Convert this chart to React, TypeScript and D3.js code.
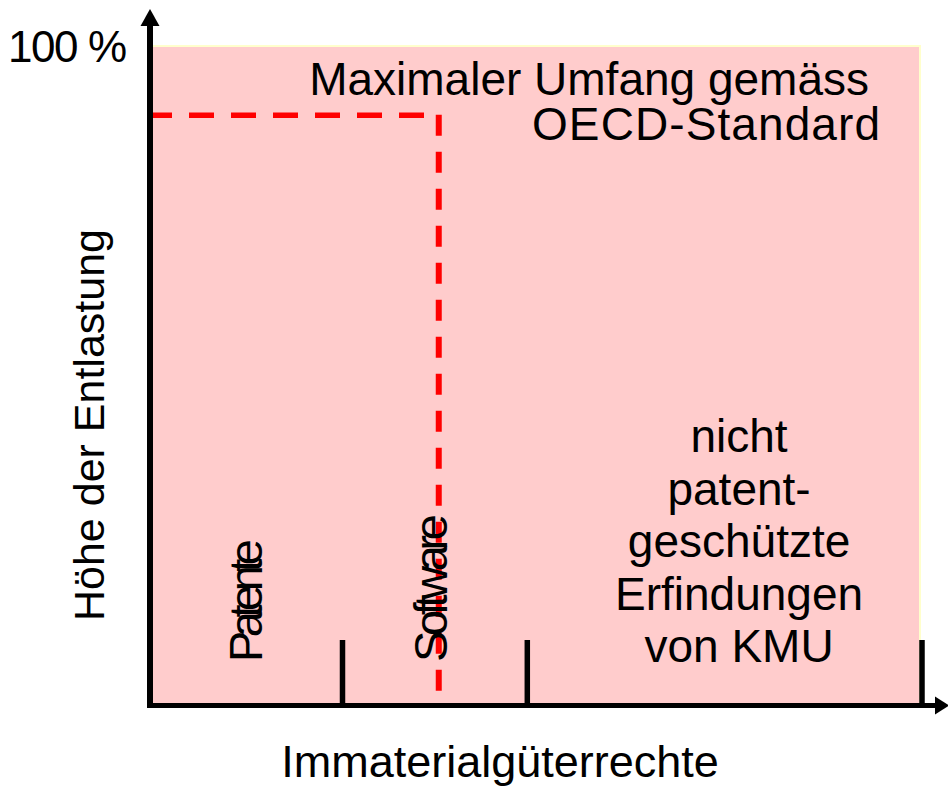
import React from "react";
import * as d3 from "d3";

// ---- data ----
const segmentBounds = [0, 0.25, 0.49, 1.0]; // share of x axis: Patente | Software | nicht patentgeschützte
const categoryLabels = ["Patente", "Software"];
const categoryCenters = [0.123, 0.3635];
const otherLabelLines = ["nicht", "patent-", "geschützte", "Erfindungen", "von KMU"];
const otherCenter = 0.765;
const oecdMax = 89.5; // % height of the maximal relief
const softwareSplit = 0.375; // where the dashed limit drops to zero
const tickHeightPct = 10;
const yTopLabel = "100 %";
const titleLines = ["Maximaler Umfang gemäss", "OECD-Standard"];
const xTitle = "Immaterialgüterrechte";
const yTitle = "Höhe der Entlastung";

const W = 948;
const H = 787;
const FONT = "'Liberation Sans', Arial, Helvetica, sans-serif";

export default function App() {
  const x = d3.scaleLinear().domain([0, 1]).range([150, 920]);
  const y = d3.scaleLinear().domain([0, 100]).range([706, 46]);

  const hLine = d3.line()([
    [x(0) - 3, y(oecdMax)],
    [x(softwareSplit), y(oecdMax)],
  ]);
  const vLine = d3.line()([
    [x(softwareSplit), y(oecdMax) - 0.5],
    [x(softwareSplit), y(0) - 10],
  ]);

  return (
    <svg
      width={W}
      height={H}
      viewBox={`0 0 ${W} ${H}`}
      style={{ position: "absolute", left: 0, top: 0, background: "#fff" }}
    >
      {/* background area */}
      <rect
        x={x(0)}
        y={y(100)}
        width={x(1) - x(0)}
        height={y(0) - y(100)}
        fill="#ffcccc"
        stroke="#ffffcc"
        strokeWidth={2}
      />

      {/* dashed OECD limit */}
      <path d={hLine || ""} stroke="#ff0000" strokeWidth={5.5} strokeDasharray="25 17" fill="none" />
      <path d={vLine || ""} stroke="#ff0000" strokeWidth={6} strokeDasharray="21 16" fill="none" />

      {/* segment ticks */}
      {segmentBounds.slice(1).map((b, i) => (
        <line
          key={i}
          x1={x(b) + (i === 2 ? 2 : 0)}
          x2={x(b) + (i === 2 ? 2 : 0)}
          y1={y(tickHeightPct)}
          y2={y(0)}
          stroke="#000"
          strokeWidth={5.5}
        />
      ))}

      {/* axes */}
      <line x1={x(0)} x2={x(0)} y1={24} y2={708} stroke="#000" strokeWidth={6} />
      <line x1={x(0) - 3} x2={938} y1={705.5} y2={705.5} stroke="#000" strokeWidth={5} />
      <polygon points={`${x(0)},9 ${x(0) - 9.5},26 ${x(0) + 9.5},26`} fill="#000" />
      <polygon points={`949,705.5 935,696.5 935,714.5`} fill="#000" />

      {/* texts */}
      <text x={8} y={62} fontFamily={FONT} fontSize={44} textLength={119} lengthAdjust="spacing" fill="#000">
        {yTopLabel}
      </text>
      <text fontFamily={FONT} fontSize={46} textAnchor="end" fill="#000">
        <tspan x={869} y={95}>
          {titleLines[0]}
        </tspan>
        <tspan x={880} y={140} textLength={348} lengthAdjust="spacing">
          {titleLines[1]}
        </tspan>
      </text>

      <text fontFamily={FONT} fontSize={46} textAnchor="middle" fill="#000">
        {otherLabelLines.map((t, i) => (
          <tspan key={t} x={x(otherCenter)} y={452 + i * 52.5}>
            {t}
          </tspan>
        ))}
      </text>

      <text
        transform={`translate(${x(categoryCenters[0]) + 17},662) rotate(-90)`}
        fontFamily={FONT}
        fontSize={47}
        textLength={123}
        lengthAdjust="spacing"
        fill="#000"
      >
        {categoryLabels[0]}
      </text>
      <text
        transform={`translate(${x(categoryCenters[1]) + 17},662) rotate(-90)`}
        fontFamily={FONT}
        fontSize={47}
        textLength={148}
        lengthAdjust="spacing"
        fill="#000"
      >
        {categoryLabels[1]}
      </text>

      <text
        transform={`translate(104,425) rotate(-90)`}
        fontFamily={FONT}
        fontSize={43}
        textAnchor="middle"
        fill="#000"
      >
        {yTitle}
      </text>
      <text x={500} y={777} fontFamily={FONT} fontSize={45} textAnchor="middle" fill="#000">
        {xTitle}
      </text>
    </svg>
  );
}
